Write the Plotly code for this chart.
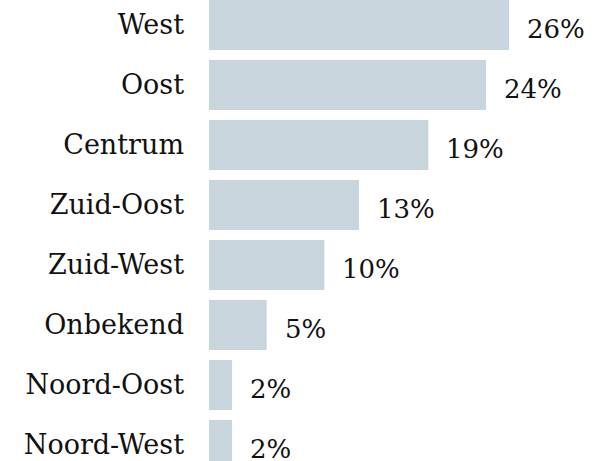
import plotly.graph_objects as go

regions = ["West", "Oost", "Centrum", "Zuid-Oost", "Zuid-West", "Onbekend", "Noord-Oost", "Noord-West"]
shares = [26, 24, 19, 13, 10, 5, 2, 2]
labels = [f"{v}%" for v in shares]

FONT = "DejaVu Serif"

fig = go.Figure()
fig.add_trace(go.Bar(
    x=shares, y=regions, orientation="h",
    marker=dict(color="#c9d5dc", line=dict(width=0)),
    width=50/60, hoverinfo="skip",
))
for r, v, t in zip(regions, shares, labels):
    fig.add_annotation(x=v, y=r, text=t, showarrow=False, xanchor="left",
                       yanchor="middle", xshift=16, yshift=-4,
                       font=dict(family=FONT, size=26, color="#111111"))

fig.update_layout(
    width=594, height=461,
    margin=dict(l=209, r=0, t=0, b=0),
    paper_bgcolor="white", plot_bgcolor="white",
    showlegend=False,
    xaxis=dict(range=[0, 385/11.54], visible=False, fixedrange=True),
    yaxis=dict(range=[(461-25)/60, -25/60], showgrid=False, zeroline=False,
               showline=False, ticks="", ticklabelstandoff=24,
               tickfont=dict(family=FONT, size=27, color="#111111"), fixedrange=True),
)
fig.write_html("out.html", config={"displayModeBar": False},
               post_script="document.body.style.margin='0';document.body.style.overflow='hidden';")
